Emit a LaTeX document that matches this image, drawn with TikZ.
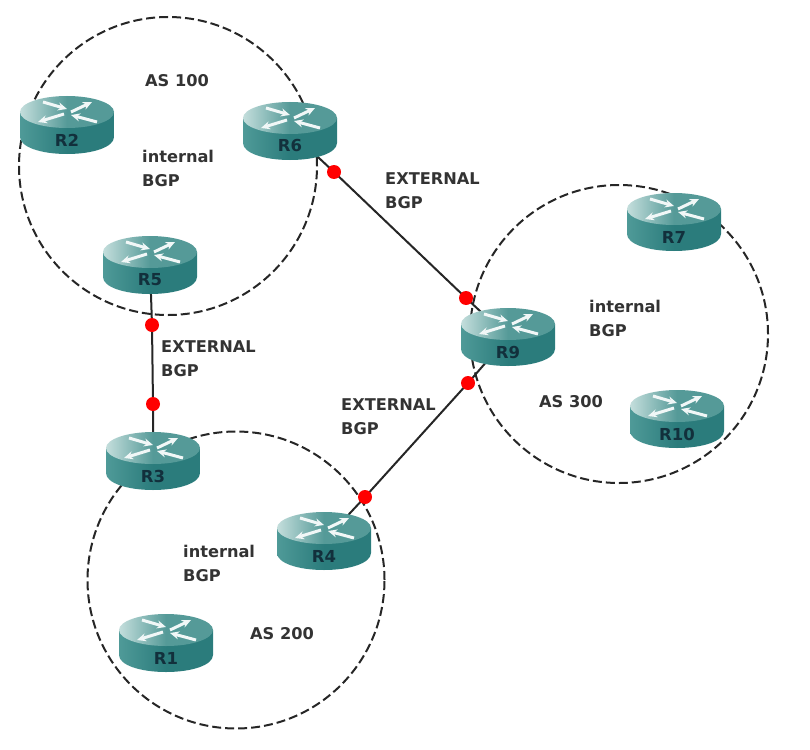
\documentclass[tikz,border=0pt]{standalone}
\usepackage{fontspec}
\setmainfont{DejaVu Sans}
\usepackage{xcolor}
\usetikzlibrary{arrows.meta,backgrounds}

\definecolor{routerside}{HTML}{2B7C7C}
\definecolor{routerlight}{HTML}{4F9A98}
\definecolor{routertop}{HTML}{559A98}
\definecolor{routerglow}{HTML}{C4DEDC}
\definecolor{routertext}{HTML}{12303C}
\tikzset{
	asring/.style = {circle, draw=black!85, line width=2pt, dash pattern=on 9pt off 4pt, minimum size=#1, inner sep=0pt},
	reddot/.style = {circle, fill=red, minimum size=14pt, inner sep=0pt},
	routerspot/.style = {minimum width=95pt, minimum height=58pt, inner sep=0pt},
	routerlabel/.style = {font=\fontsize{16.5}{18}\selectfont\bfseries, text=routertext, inner sep=0pt},
	caption/.style = {font=\fontsize{16.2}{24}\selectfont\bfseries, text=black!80, align=left, inner sep=0pt},
	routerarrow/.style = {-{Stealth[length=9pt,width=8pt]}, white!92!routertop, line width=3pt},
	linkline/.style = {line width=2pt, black!85},
}

\begin{document}
\begin{tikzpicture}[x=1pt, y=-1pt]
		\useasboundingbox (0,0) rectangle (810,749);

		% routers come first, so that the links can refer to them
		\foreach \name/\px/\py in {R1/166/643, R2/67/125, R3/153/461, R4/324/541, R5/150/265, R6/290/131, R7/674/222, R9/508/337, R10/677/419} {
			\node[routerspot] (\name) at (\px,\py) {};
			\shade[left color=routerlight, right color=routerside, middle color=routerside] (\px-47,\py-13) -- (\px+47,\py-13) -- (\px+47,\py+12) .. controls (\px+47,\py+22) and (\px+26,\py+29) .. (\px,\py+29) .. controls (\px-26,\py+29) and (\px-47,\py+22) .. (\px-47,\py+12) -- cycle;
			\shade[left color=routerglow, right color=routertop, middle color=routertop] (\px,\py-13) ellipse (47pt and 16pt);
			\draw[routerarrow] (\px-24,\py-23) -- (\px,\py-16);
			\draw[routerarrow] (\px+30,\py-3) -- (\px+4,\py-10);
			\draw[routerarrow] (\px+4,\py-13) -- (\px+25,\py-23);
			\draw[routerarrow] (\px-3,\py-11) -- (\px-29,\py-3);
			\node[routerlabel] (label\name) at (\px,\py+15) {\name};
		}

		\node[reddot] (dotA) at (334,172) {};
		\node[reddot] (dotB) at (466,298) {};
		\node[reddot] (dotC) at (468,383) {};
		\node[reddot] (dotD) at (365,497) {};
		\node[reddot] (dotE) at (152,325) {};
		\node[reddot] (dotF) at (153,404) {};

		\begin{scope}[on background layer]
			\node[asring=298pt] (as100) at (168,166) {};
			\node[asring=298pt] (as300) at (619,334) {};
			\node[asring=297pt] (as200) at (236,580) {};

			\draw[linkline] (R6.center) -- (dotA.center) -- (dotB.center) -- (R9.center);
			\draw[linkline] (R9.center) -- (dotC.center) -- (dotD.center) -- (R4.center);
			\draw[linkline] (R5.center) -- (dotE.center) -- (dotF.center) -- (R3.center);
		\end{scope}

		\node[caption, anchor=west] (titleA) at (145,81) {AS 100};
		\node[caption, anchor=west] (titleB) at (539,402) {AS 300};
		\node[caption, anchor=west] (titleC) at (250,634) {AS 200};

		\node[caption, anchor=north west] (internA) at (142,150) {internal\\BGP};
		\node[caption, anchor=north west] (internB) at (589,300) {internal\\BGP};
		\node[caption, anchor=north west] (internC) at (183,545) {internal\\BGP};

		\node[caption, anchor=north west] (extA) at (385,172) {EXTERNAL\\BGP};
		\node[caption, anchor=north west] (extB) at (161,340) {EXTERNAL\\BGP};
		\node[caption, anchor=north west] (extC) at (341,398) {EXTERNAL\\BGP};

	\end{tikzpicture}
\end{document}
